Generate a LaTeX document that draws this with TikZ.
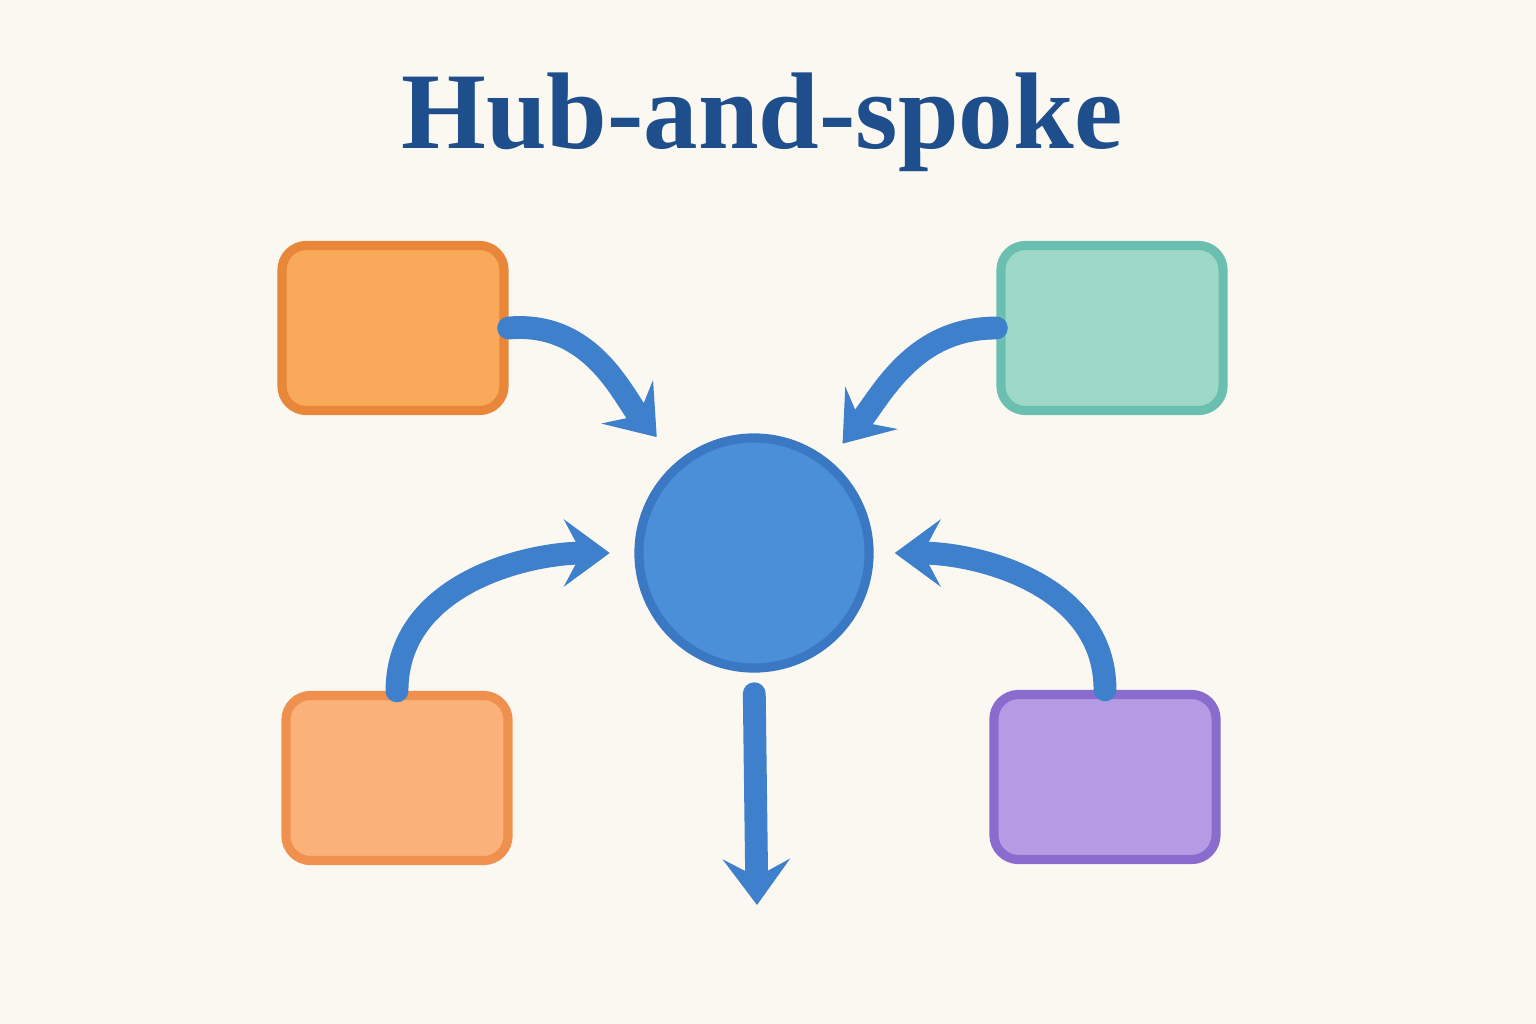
\documentclass[tikz,border=0pt]{standalone}
\usepackage{fontspec}
\setmainfont{Liberation Serif}
\usetikzlibrary{arrows.meta}
\definecolor{paper}{HTML}{FBF8F1}
\definecolor{titleblue}{HTML}{1F4E8C}
\definecolor{spokeblue}{HTML}{3F80CC}
\tikzset{
  spokebox/.style={draw, line width=2.6pt, rounded corners=7pt, minimum width=2.22cm, minimum height=1.65cm},
  spoke/.style={spokeblue, line width=6.5pt, line cap=round, -{Stealth[length=13pt,width=19pt,inset=5pt]}},
}
\begin{document}
\begin{tikzpicture}[x=0.01cm,y=-0.01cm]
        \fill[paper] (0,0) rectangle (1536,1024);
        \useasboundingbox (0,0) rectangle (1536,1024);
        \node[titleblue, font=\bfseries\fontsize{31}{36}\selectfont] (title) at (762,122) {Hub-and-spoke};
        \node[spokebox, fill={rgb,255:red,249;green,169;blue,90}, draw={rgb,255:red,232;green,135;blue,58}] (tl) at (393,328) {};
        \node[spokebox, fill={rgb,255:red,158;green,217;blue,200}, draw={rgb,255:red,107;green,191;blue,176}] (tr) at (1112,328) {};
        \node[spokebox, fill={rgb,255:red,251;green,178;blue,122}, draw={rgb,255:red,240;green,144;blue,79}] (bl) at (397,778) {};
        \node[spokebox, fill={rgb,255:red,180;green,155;blue,227}, draw={rgb,255:red,138;green,108;blue,207}] (br) at (1105,777) {};
        \node[circle, draw={rgb,255:red,58;green,120;blue,196}, line width=2.6pt, fill={rgb,255:red,74;green,143;blue,216}, minimum size=2.3cm] (hub) at (754,553) {};
        \coordinate (out) at (757,905);
        \draw[spoke, shorten >=9pt] (tl.east) to[out=5, in=130] (hub);
        \draw[spoke, shorten >=6pt] (tr.west) to[out=180, in=51] (hub);
        \draw[spoke, shorten >=7pt] (bl.north) to[out=90, in=180] (hub);
        \draw[spoke, shorten >=6pt] (br.north) to[out=90, in=0] (hub);
        \draw[spoke, shorten <=6pt] (hub.south) -- (out);
\end{tikzpicture}
\end{document}
